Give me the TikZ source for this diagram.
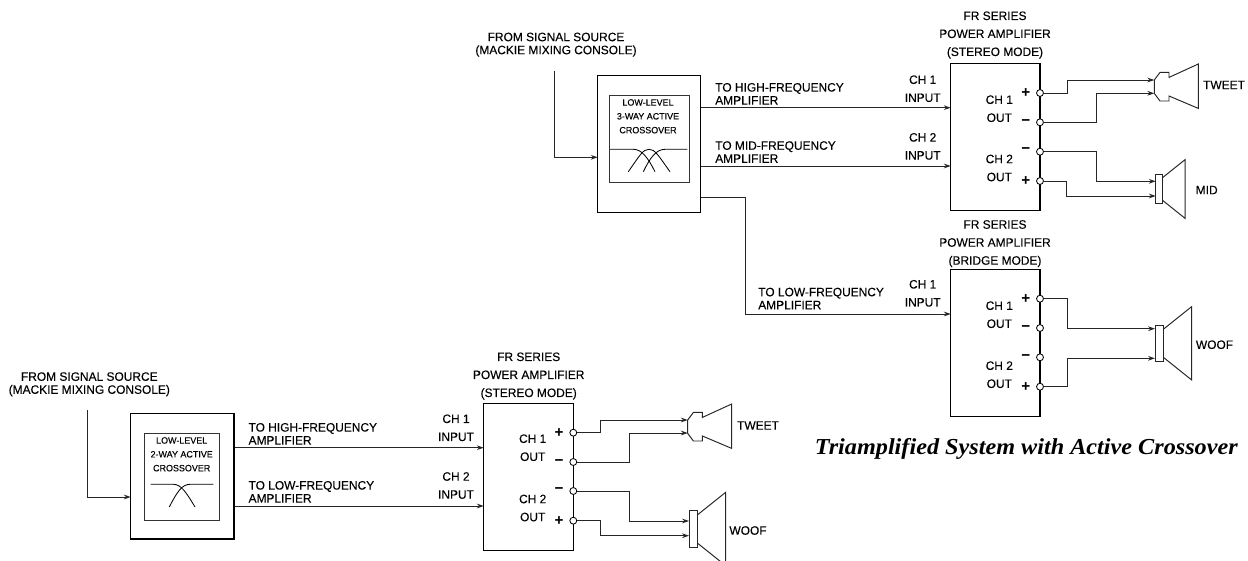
\documentclass[tikz,border=0pt]{standalone}
\usepackage{fontspec}
\setmainfont{Liberation Sans}
\newfontfamily\capfont[FakeStretch=0.98,FakeBold=0.12]{Liberation Sans}
\newfontfamily\headfont[FakeStretch=1.06]{Liberation Serif}
\usetikzlibrary{arrows.meta}
\tikzset{
  lbltight/.style={inner sep=0pt, align=center, font=\capfont\fontsize{8.8}{9.4}\selectfont},
  lblwide/.style={inner sep=0pt, align=center, font=\capfont\fontsize{8.8}{13}\selectfont},
  lblleft/.style={inner sep=0pt, align=left, anchor=west, font=\capfont\fontsize{8.8}{9.4}\selectfont},
  lblinner/.style={inner sep=0pt, align=center, font=\capfont\fontsize{6.6}{10}\selectfont},
  sign/.style={inner sep=0pt, font=\bfseries\fontsize{11}{11}\selectfont},
  figtitle/.style={inner sep=0pt, anchor=east, font=\headfont\bfseries\itshape\fontsize{16.5}{17}\selectfont},
  heavybox/.style={draw=black, line width=1pt, inner sep=0pt},
  panel/.style={draw=black!80, line width=0.7pt, inner sep=0pt},
  term/.style={circle, draw=black, fill=white, line width=0.6pt, inner sep=0pt, minimum size=5pt},
  wire/.style={draw=black!85, line width=0.7pt},
  feed/.style={wire, -{Stealth[length=5pt, width=3.4pt]}},
  tweeter/.pic={
    \draw[line width=0.7pt, draw=black!85] (0,-6.7) -- (5.7,-14.3) -- (14.7,-14.3) -- (14.7,-9.3) -- (44,-22.7) -- (44,21.7) -- (14.7,9.3) -- (14.7,14.3) -- (5.7,14.3) -- (0,6.7) -- cycle;
  },
  woofer/.pic={
    \draw[line width=0.7pt, draw=black!85] (0,-18.3) rectangle (8.3,18.3);
    \draw[line width=0.7pt, draw=black!85] (8.3,-14) -- (36.7,-36.7) -- (36.7,36.7) -- (8.3,14);
  }
}
\begin{document}
\begin{tikzpicture}[x=0.01in,y=-0.01in]
\useasboundingbox (0,0) rectangle (1248,561);
\node[lbltight] (src3txt) at (556,44.7) {FROM SIGNAL SOURCE\\(MACKIE MIXING CONSOLE)};
\node[heavybox, minimum width=1.03in, minimum height=1.366in] (xo3) at (649.2,144) {};
\node[panel, minimum width=0.8in, minimum height=0.866in] (xo3pan) at (649.3,139) {};
\node[lblinner] (xo3txt) at (648,116.3) {LOW-LEVEL\\3-WAY ACTIVE\\CROSSOVER};
\draw[line width=0.6pt] (610,149.3) -- (633.3,149.3) .. controls (642,149.3) and (648,158) .. (655,171.7);
\draw[line width=0.6pt] (687.3,149.3) -- (665,149.3) .. controls (656,149.3) and (650,158) .. (643.3,171.7);
\draw[line width=0.6pt] (628.3,171.7) .. controls (640,155) and (643,149.3) .. (649,149.3) .. controls (655,149.3) and (658,155) .. (670,171.7);
\coordinate (src3) at (554,70.7);
\coordinate (xo3in) at (597.7,157.3);
\coordinate (xo3low) at (700.7,197);
\draw[feed] (src3) |- (xo3in);
\node[lblleft] (hi3txt) at (715,93.8) {TO HIGH-FREQUENCY\\AMPLIFIER};
\node[lblleft] (mid3txt) at (715,152) {TO MID-FREQUENCY\\AMPLIFIER};
\node[lblleft] (low3txt) at (758,298.5) {TO LOW-FREQUENCY\\AMPLIFIER};
\node[lblwide] (amp1txt) at (995,35) {FR SERIES\\POWER AMPLIFIER\\(STEREO MODE)};
\node[heavybox, minimum width=0.893in, minimum height=1.474in] (amp1) at (995.3,137) {};
\coordinate (amp1a) at (950.7,107.7);
\coordinate (amp1b) at (950.7,166);
\draw[feed] (xo3.east |- amp1a) -- (amp1a);
\draw[feed] (xo3.east |- amp1b) -- (amp1b);
\node[lblwide] (in1a) at (922.7,88.7) {CH 1\\INPUT};
\node[lblwide] (in1b) at (922.7,146.4) {CH 2\\INPUT};
\node[lblwide] (out1a) at (999.3,108.7) {CH 1\\OUT};
\node[lblwide] (out1b) at (999.3,168) {CH 2\\OUT};
\node[sign] (s1a) at (1025.7,92.7) {+};
\node[sign] (s1b) at (1025.7,123) {\textminus};
\node[sign] (s1c) at (1025.7,151) {\textminus};
\node[sign] (s1d) at (1025.7,181) {+};
\node[term] (t1a) at (1040,93) {};
\node[term] (t1b) at (1040,122.3) {};
\node[term] (t1c) at (1040,151.7) {};
\node[term] (t1d) at (1040,181) {};
\pic at (1154.3,86.7) {tweeter};
\pic[scale=0.8] at (1155.7,189) {woofer};
\coordinate (tw1p) at (1154.3,80);
\coordinate (tw1n) at (1154.3,93.3);
\coordinate (mid1n) at (1155.7,181.3);
\coordinate (mid1p) at (1155.7,196);
\draw[feed] (t1a) -- (1067.3,93) |- (tw1p);
\draw[feed] (t1b) -- (1096,122.3) |- (tw1n);
\draw[feed] (t1c) -- (1096,151.7) |- (mid1n);
\draw[feed] (t1d) -- (1066.7,181) |- (mid1p);
\node[lbltight] (tw1txt) at (1224,85) {TWEET};
\node[lbltight] (mid1txt) at (1206.7,190) {MID};
\node[lblwide] (amp2txt) at (995,243.7) {FR SERIES\\POWER AMPLIFIER\\(BRIDGE MODE)};
\node[heavybox, minimum width=0.893in, minimum height=1.474in] (amp2) at (995.3,343) {};
\coordinate (amp2a) at (950.7,314);
\draw[feed] (xo3low) -- (745,197) |- (amp2a);
\node[lblwide] (in2a) at (922.7,293.3) {CH 1\\INPUT};
\node[lblwide] (out2a) at (999.3,314.7) {CH 1\\OUT};
\node[lblwide] (out2b) at (999.3,374.7) {CH 2\\OUT};
\node[sign] (s2a) at (1025.7,299) {+};
\node[sign] (s2b) at (1025.7,329) {\textminus};
\node[sign] (s2c) at (1025.7,357.3) {\textminus};
\node[sign] (s2d) at (1025.7,387) {+};
\node[term] (t2a) at (1040,298.7) {};
\node[term] (t2b) at (1040,328) {};
\node[term] (t2c) at (1040,357.3) {};
\node[term] (t2d) at (1040,386.7) {};
\pic at (1155,343.3) {woofer};
\coordinate (wf2p) at (1155,328.7);
\coordinate (wf2n) at (1155,358.3);
\draw[feed] (t2a) -- (1067.3,298.7) |- (wf2p);
\draw[feed] (t2d) -- (1067.3,386.7) |- (wf2n);
\node[lbltight] (wf2txt) at (1214.5,344.7) {WOOF};
\node[figtitle] (title) at (1238,449) {Triamplified System with Active Crossover};
\node[lbltight] (src2txt) at (89.3,384.3) {FROM SIGNAL SOURCE\\(MACKIE MIXING CONSOLE)};
\node[heavybox, minimum width=1.033in, minimum height=1.257in] (xo2) at (182.3,476.2) {};
\node[panel, minimum width=0.746in, minimum height=0.874in] (xo2pan) at (182,477) {};
\node[lblinner] (xo2txt) at (181.7,454.3) {LOW-LEVEL\\2-WAY ACTIVE\\CROSSOVER};
\draw[line width=0.6pt] (150.7,484.3) -- (173.3,484.3) .. controls (181,484.3) and (186,492) .. (195,507);
\draw[line width=0.6pt] (213.3,484.3) -- (190,484.3) .. controls (182,484.3) and (177,492) .. (169.3,507);
\coordinate (src2) at (87.7,410);
\coordinate (xo2in) at (130.7,497);
\draw[feed] (src2) |- (xo2in);
\node[lblleft] (hi2txt) at (248.3,433.8) {TO HIGH-FREQUENCY\\AMPLIFIER};
\node[lblleft] (low2txt) at (248.3,491.8) {TO LOW-FREQUENCY\\AMPLIFIER};
\node[lblwide] (amp3txt) at (528.7,376) {FR SERIES\\POWER AMPLIFIER\\(STEREO MODE)};
\node[heavybox, minimum width=0.896in, minimum height=1.47in] (amp3) at (528.5,476.8) {};
\coordinate (amp3a) at (483.7,447.7);
\coordinate (amp3b) at (483.7,506);
\draw[feed] (xo2.east |- amp3a) -- (amp3a);
\draw[feed] (xo2.east |- amp3b) -- (amp3b);
\node[lblwide] (in3a) at (456,427.8) {CH 1\\INPUT};
\node[lblwide] (in3b) at (456,485.5) {CH 2\\INPUT};
\node[lblwide] (out3a) at (532.7,447.7) {CH 1\\OUT};
\node[lblwide] (out3b) at (532.7,508) {CH 2\\OUT};
\node[sign] (s3a) at (559,432.7) {+};
\node[sign] (s3b) at (559,462.5) {\textminus};
\node[sign] (s3c) at (559,491) {\textminus};
\node[sign] (s3d) at (559,520.7) {+};
\node[term] (t3a) at (573.3,432.7) {};
\node[term] (t3b) at (573.3,462) {};
\node[term] (t3c) at (573.3,491) {};
\node[term] (t3d) at (573.3,520.7) {};
\pic at (687.7,426.7) {tweeter};
\pic at (689,529) {woofer};
\coordinate (tw3p) at (687.7,420);
\coordinate (tw3n) at (687.7,433);
\coordinate (wf3n) at (689,521);
\coordinate (wf3p) at (689,535.7);
\draw[feed] (t3a) -- (600.7,432.7) |- (tw3p);
\draw[feed] (t3b) -- (629.3,462) |- (tw3n);
\draw[feed] (t3c) -- (629.3,491) |- (wf3n);
\draw[feed] (t3d) -- (600,520.7) |- (wf3p);
\node[lbltight] (tw3txt) at (758,425.5) {TWEET};
\node[lbltight] (wf3txt) at (748,530.5) {WOOF};
\end{tikzpicture}
\end{document}
